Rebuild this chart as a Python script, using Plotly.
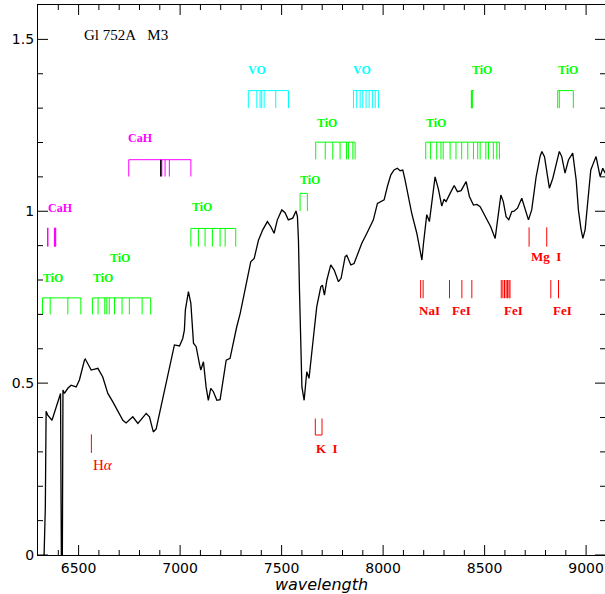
import plotly.graph_objects as go

# Spectrum of Gl 752A (M3), relative flux vs wavelength in Angstrom
wavelength = [6330, 6336, 6340, 6348, 6369, 6398, 6405, 6411, 6415, 6420, 6423, 6430,
              6447, 6463, 6488, 6504, 6529, 6533, 6562, 6595, 6619, 6644, 6668, 6693,
              6718, 6734, 6767, 6792, 6833, 6849, 6868, 6882, 6898, 6923, 6947, 6972,
              6997, 7013, 7021, 7026, 7041, 7053, 7066, 7079, 7095, 7102, 7115, 7128,
              7139, 7151, 7164, 7181, 7197, 7213, 7227, 7246, 7260, 7279, 7296, 7315,
              7332, 7348, 7365, 7386, 7407, 7430, 7447, 7463, 7479, 7501, 7517, 7533,
              7555, 7571, 7578, 7583, 7588, 7600, 7611, 7624, 7635, 7644, 7657, 7673,
              7693, 7701, 7711, 7723, 7742, 7759, 7780, 7793, 7813, 7821, 7841, 7857,
              7878, 7895, 7920, 7936, 7952, 7972, 8005, 8021, 8038, 8054, 8070, 8084,
              8097, 8108, 8125, 8141, 8166, 8182, 8191, 8199, 8215, 8228, 8241, 8256,
              8272, 8289, 8300, 8310, 8330, 8350, 8366, 8384, 8409, 8425, 8445, 8462,
              8478, 8494, 8511, 8530, 8552, 8568, 8580, 8592, 8606, 8619, 8634, 8645,
              8662, 8683, 8700, 8716, 8732, 8754, 8773, 8782, 8795, 8806, 8819, 8836,
              8856, 8868, 8880, 8896, 8913, 8934, 8951, 8962, 8974, 8984, 8995, 9006,
              9023, 9036, 9049, 9069, 9082, 9094]
flux = [0.0, 0.135, 0.418, 0.407, 0.392, 0.446, 0.46, 0.47, 0.0, 0.0, 0.48, 0.47,
        0.485, 0.494, 0.489, 0.509, 0.567, 0.57, 0.538, 0.543, 0.518, 0.47, 0.446, 0.417,
        0.392, 0.384, 0.402, 0.383, 0.412, 0.402, 0.358, 0.367, 0.412, 0.48, 0.547, 0.611,
        0.608, 0.63, 0.654, 0.713, 0.766, 0.732, 0.616, 0.606, 0.557, 0.538, 0.562, 0.489,
        0.45, 0.485, 0.475, 0.45, 0.452, 0.509, 0.567, 0.572, 0.616, 0.664, 0.703, 0.761,
        0.81, 0.853, 0.863, 0.916, 0.946, 0.97, 0.955, 0.936, 0.975, 1.004, 0.996, 0.975,
        0.98, 1.001, 0.984, 0.916, 0.771, 0.489, 0.45, 0.533, 0.514, 0.557, 0.635, 0.722,
        0.78, 0.785, 0.756, 0.8, 0.844, 0.829, 0.795, 0.805, 0.868, 0.872, 0.844, 0.848,
        0.878, 0.907, 0.936, 0.955, 0.975, 1.023, 1.033, 1.072, 1.106, 1.12, 1.125, 1.118,
        1.12, 1.091, 1.043, 0.994, 0.936, 0.887, 0.858, 0.907, 0.99, 0.97, 1.03, 1.10,
        1.065, 1.015, 1.035, 1.028, 1.052, 1.075, 1.057, 1.06, 1.086, 1.043, 1.018, 1.02,
        1.013, 0.994, 0.975, 0.955, 0.921, 0.994, 1.047, 1.028, 0.984, 0.975, 0.999, 1.0,
        1.009, 1.038, 1.004, 0.975, 1.004, 1.101, 1.159, 1.174, 1.159, 1.111, 1.067, 1.096,
        1.149, 1.174, 1.159, 1.111, 1.149, 1.169, 1.091, 1.004, 0.951, 0.921, 0.946, 1.023,
        1.12, 1.14, 1.159, 1.101, 1.125, 1.111]

# Axis ticks
x_major = [6500, 7000, 7500, 8000, 8500, 9000]
x_minor = [w for w in range(6400, 9100, 100) if w not in x_major]
y_major = [0, 0.5, 1, 1.5]
y_minor = [round(0.1 * i, 1) for i in range(1, 16) if i % 5 != 0]

# Molecular band heads and atomic lines (Angstrom)
tio_6322 = [6322, 6360, 6447, 6511]
tio_6569 = [6568, 6596, 6629, 6639, 6651, 6677, 6714, 6750, 6813, 6855]
cah_6382 = [6348, 6382, 6386]
cah_6750 = [6747, 6910, 6926, 6947, 7053]
cah_6905 = [6905]
tio_7054 = [7053, 7090, 7123, 7159, 7197, 7222, 7274]
tio_7589 = [7591, 7627]
tio_7666 = [7668, 7715, 7752, 7788, 7820, 7829, 7851, 7862]
tio_8206 = [8210, 8234, 8264, 8285, 8296, 8330, 8359, 8387, 8417, 8445, 8466, 8478,
            8506, 8519, 8543, 8560, 8573]
vo_7334 = [7336, 7378, 7394, 7402, 7414, 7471, 7534]
vo_7851 = [7854, 7870, 7887, 7900, 7916, 7931, 7947, 7961, 7977]
tio_8432 = [8435, 8437, 8439, 8448]
tio_8859 = [8860, 8868, 8937]
h_alpha = [6563]
k_i = [7666, 7699]
na_i = [8185, 8197]
fe_i_8327 = [8327, 8388, 8437]
fe_i_8600 = [8582, 8590, 8598, 8606, 8613, 8620, 8625]
fe_i_8830 = [8826, 8864]
mg_i = [8719, 8806]

GREEN = "#00ff00"
CYAN = "#00ffff"
MAGENTA = "#ff00ff"
RED = "#ff0000"

# (lines, y top, y bottom, connecting bar, colour, width)
markers = [
    (tio_6322, 0.748, 0.700, "top", GREEN, 1),
    (tio_6569, 0.748, 0.700, "top", GREEN, 1),
    (cah_6382, 0.952, 0.897, None, MAGENTA, 1.5),
    (cah_6750, 1.150, 1.101, "top", MAGENTA, 1),
    (cah_6905, 1.150, 1.101, None, "black", 1.5),
    (tio_7054, 0.950, 0.897, "top", GREEN, 1),
    (tio_7589, 1.052, 1.001, "top", GREEN, 1),
    (tio_7666, 1.201, 1.151, "top", GREEN, 1),
    (tio_8206, 1.201, 1.151, "top", GREEN, 1),
    (vo_7334, 1.351, 1.300, "top", CYAN, 1),
    (vo_7851, 1.351, 1.300, "top", CYAN, 1),
    (tio_8432[:3], 1.351, 1.300, None, GREEN, 1.2),
    ([tio_8432[0], tio_8432[-1]], 1.351, 1.351, "top", GREEN, 1),
    (tio_8859, 1.351, 1.300, "top", GREEN, 1),
    (h_alpha, 0.351, 0.297, None, RED, 1),
    (k_i, 0.397, 0.349, "bottom", RED, 1),
    (na_i, 0.800, 0.747, None, RED, 1),
    (fe_i_8327, 0.800, 0.747, None, RED, 1),
    (fe_i_8600, 0.800, 0.747, None, RED, 1),
    (fe_i_8830, 0.800, 0.747, None, RED, 1),
    (mg_i, 0.953, 0.897, None, RED, 1),
]

# (text, x, y, colour, size)
labels = [
    ("<b>TiO</b>", 6372, 0.805, GREEN, 12),
    ("<b>TiO</b>", 6621, 0.805, GREEN, 12),
    ("<b>TiO</b>", 6704, 0.863, GREEN, 12),
    ("<b>CaH</b>", 6411, 1.010, MAGENTA, 12),
    ("<b>CaH</b>", 6805, 1.213, MAGENTA, 12),
    ("<b>TiO</b>", 7106, 1.012, GREEN, 12),
    ("<b>TiO</b>", 7640, 1.091, GREEN, 12),
    ("<b>TiO</b>", 7722, 1.258, GREEN, 12),
    ("<b>TiO</b>", 8261, 1.258, GREEN, 12),
    ("<b>VO</b>", 7377, 1.410, CYAN, 12),
    ("<b>VO</b>", 7894, 1.410, CYAN, 12),
    ("<b>TiO</b>", 8488, 1.410, GREEN, 12),
    ("<b>TiO</b>", 8912, 1.410, GREEN, 12),
    ("H<i>α</i>", 6618, 0.261, RED, 15),
    ("<b>K  I</b>", 7725, 0.310, RED, 13),
    ("<b>NaI</b>", 8229, 0.711, RED, 13),
    ("<b>FeI</b>", 8384, 0.711, RED, 13),
    ("<b>FeI</b>", 8640, 0.711, RED, 13),
    ("<b>FeI</b>", 8884, 0.711, RED, 13),
    ("<b>Mg&nbsp;&nbsp;I</b>", 8803, 0.868, RED, 13),
]

X_RANGE = [6300, 9093]
Y_RANGE = [0, 1.6]
WIDTH, HEIGHT = 605, 594
MARGIN = dict(l=38, r=0, t=5, b=39)

fig = go.Figure()

fig.add_trace(go.Scatter(x=wavelength, y=flux, mode="lines",
                         line=dict(color="black", width=1.3),
                         hoverinfo="skip", showlegend=False))

for lines, top, bottom, bar, color, width in markers:
    xs, ys = [], []
    for w in lines:
        xs += [w, w, None]
        ys += [top, bottom, None]
    if bar is not None and len(lines) > 1:
        yb = top if bar == "top" else bottom
        xs += [min(lines), max(lines), None]
        ys += [yb, yb, None]
    fig.add_trace(go.Scatter(x=xs, y=ys, mode="lines",
                             line=dict(color=color, width=width),
                             hoverinfo="skip", showlegend=False))

# Inward tick marks on all four sides (lengths converted from pixels to data units)
plot_w = WIDTH - MARGIN["l"] - MARGIN["r"]
plot_h = HEIGHT - MARGIN["t"] - MARGIN["b"]
x_per_px = (X_RANGE[1] - X_RANGE[0]) / plot_w
y_per_px = (Y_RANGE[1] - Y_RANGE[0]) / plot_h
tx, ty = [], []
for vals, length in ((x_major, 10), (x_minor, 5)):
    dy = length * y_per_px
    for v in vals:
        tx += [v, v, None, v, v, None]
        ty += [Y_RANGE[0], Y_RANGE[0] + dy, None, Y_RANGE[1], Y_RANGE[1] - dy, None]
for vals, length in ((y_major, 10), (y_minor, 5)):
    dx = length * x_per_px
    for v in vals:
        tx += [X_RANGE[0], X_RANGE[0] + dx, None, X_RANGE[1], X_RANGE[1] - dx, None]
        ty += [v, v, None, v, v, None]
fig.add_trace(go.Scatter(x=tx, y=ty, mode="lines", line=dict(color="black", width=1),
                         hoverinfo="skip", showlegend=False, cliponaxis=False))

for text, x, y, color, size in labels:
    fig.add_annotation(x=x, y=y, text=text, showarrow=False,
                       font=dict(family="Liberation Serif", size=size, color=color),
                       xanchor="center", yanchor="middle")

fig.add_annotation(x=6735, y=1.513, text="Gl&nbsp;752A&nbsp;&nbsp;&nbsp;M3", showarrow=False,
                   font=dict(family="Liberation Serif", size=15, color="black"),
                   xanchor="center", yanchor="middle")

axis_common = dict(
    showgrid=False, zeroline=False, ticks="",
    showline=True, linecolor="black", linewidth=1.2, mirror=True,
    tickfont=dict(family="DejaVu Sans", size=14, color="black"),
)

fig.update_xaxes(range=X_RANGE, tickmode="array", tickvals=x_major,
                 title=dict(text="<i>wavelength</i>", standoff=0,
                            font=dict(family="DejaVu Sans", size=16, color="black")),
                 **axis_common)
fig.update_yaxes(range=Y_RANGE, tickmode="array", tickvals=y_major,
                 ticktext=["0", "0.5", "1", "1.5"],
                 **axis_common)

fig.update_layout(width=WIDTH, height=HEIGHT, autosize=False, template="simple_white",
                  margin=MARGIN, plot_bgcolor="white", paper_bgcolor="white")

fig.write_html("out.html")
